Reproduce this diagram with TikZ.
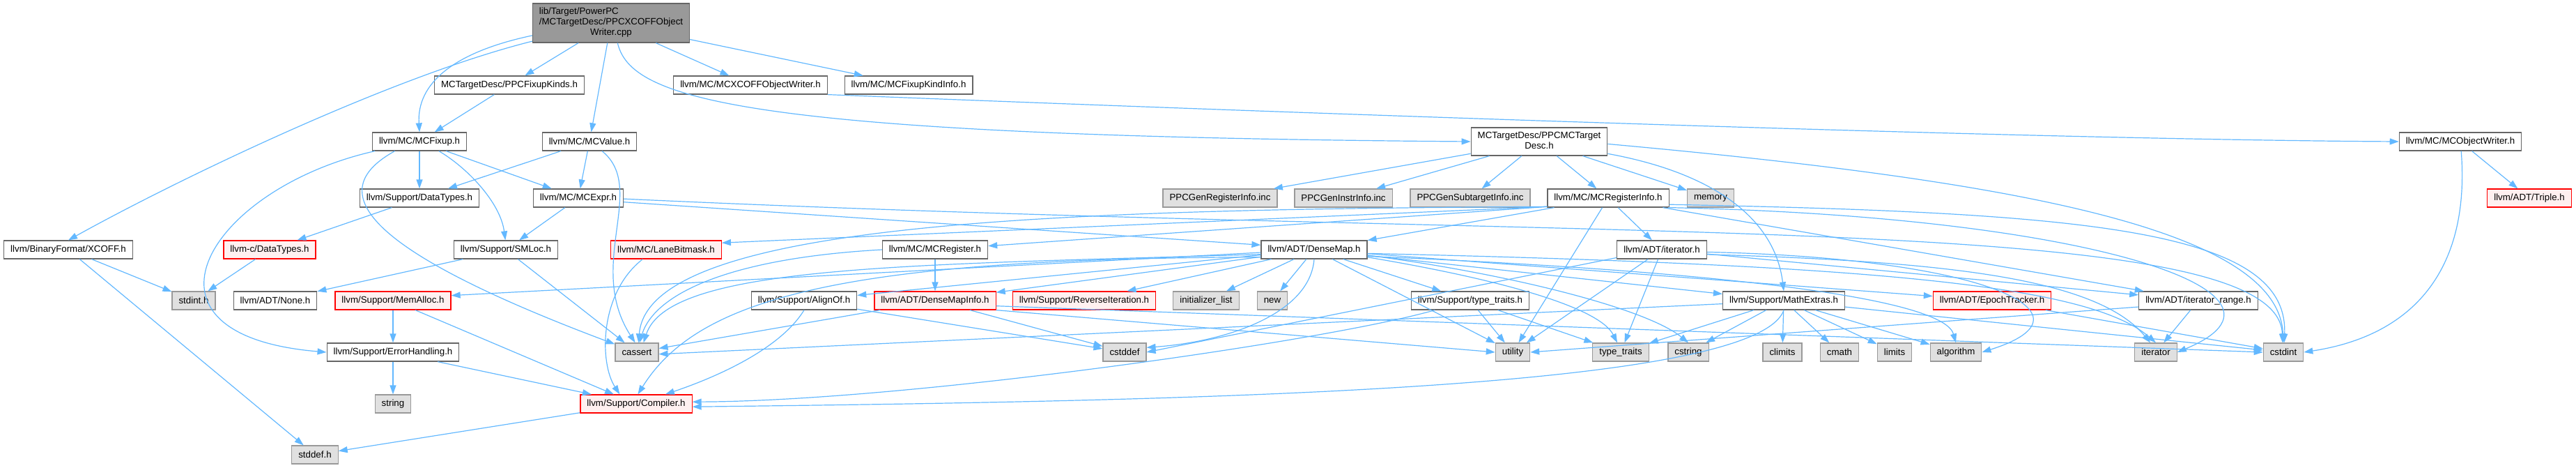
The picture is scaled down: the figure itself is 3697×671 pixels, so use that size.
\documentclass[tikz,border=0pt]{standalone}
\usepackage{fontspec}
\setmainfont{Liberation Sans}
\usetikzlibrary{arrows.meta}
\definecolor{incEdge}{RGB}{99,184,255}
\definecolor{boxLine}{RGB}{102,102,102}
\definecolor{sysFill}{RGB}{224,224,224}
\definecolor{sysLine}{RGB}{153,153,153}
\definecolor{cutFill}{RGB}{255,240,240}

\begin{document}
\begin{tikzpicture}[x=1pt, y=-1pt,
     hdr/.style={rectangle, draw=boxLine, fill=white, line width=1.2pt,
                 minimum height=26pt, inner xsep=9.5pt, inner ysep=0pt,
                 font=\fontsize{13.3}{15}\selectfont},
     sys/.style={hdr, draw=sysLine, fill=sysFill},
     cut/.style={hdr, draw=red, fill=cutFill},
     src/.style={hdr, fill=sysLine},
     inc/.style={-{Triangle[length=13pt,width=9pt]}, incEdge, line width=1.2pt}]
    \useasboundingbox (0,0) rectangle (3697,671);
    \node[src, minimum height=56pt] (root) at (877,33) {\begin{tabular}{@{}l@{}}lib/Target/PowerPC\\/MCTargetDesc/PPCXCOFFObject\\\multicolumn{1}{@{}c@{}}{Writer.cpp}\end{tabular}};
    \node[hdr] (fixk) at (731,122) {MCTargetDesc/PPCFixupKinds.h};
    \node[hdr] (xcw) at (1077,122) {llvm/MC/MCXCOFFObjectWriter.h};
    \node[hdr] (fki) at (1304,122) {llvm/MC/MCFixupKindInfo.h};
    \node[hdr] (fix) at (602,203) {llvm/MC/MCFixup.h};
    \node[hdr] (val) at (846,203) {llvm/MC/MCValue.h};
    \node[hdr, minimum height=40pt] (tdesc) at (2209,203) {\begin{tabular}{@{}c@{}}MCTargetDesc/PPCMCTarget\\Desc.h\end{tabular}};
    \node[hdr] (ow) at (3531,203) {llvm/MC/MCObjectWriter.h};
    \node[hdr] (dt) at (602,284) {llvm/Support/DataTypes.h};
    \node[hdr] (expr) at (830,284) {llvm/MC/MCExpr.h};
    \node[sys] (gri) at (1751,284) {PPCGenRegisterInfo.inc};
    \node[sys] (gii) at (1928,284) {PPCGenInstrInfo.inc};
    \node[sys] (gsi) at (2110,284) {PPCGenSubtargetInfo.inc};
    \node[hdr] (ri) at (2308,284) {llvm/MC/MCRegisterInfo.h};
    \node[sys] (mem) at (2455,284) {memory};
    \node[cut] (triple) at (3630,284) {llvm/ADT/Triple.h};
    \node[hdr] (xcoff) at (98,358) {llvm/BinaryFormat/XCOFF.h};
    \node[cut] (cdt) at (387,358) {llvm-c/DataTypes.h};
    \node[hdr] (smloc) at (726,358) {llvm/Support/SMLoc.h};
    \node[cut] (lbm) at (956,358) {llvm/MC/LaneBitmask.h};
    \node[hdr] (reg) at (1342,358) {llvm/MC/MCRegister.h};
    \node[hdr] (dmap) at (1886,358) {llvm/ADT/DenseMap.h};
    \node[hdr] (iter) at (2385,358) {llvm/ADT/iterator.h};
    \node[sys] (stdint) at (278,431) {stdint.h};
    \node[hdr] (none) at (395,431) {llvm/ADT/None.h};
    \node[cut] (malloc) at (564,431) {llvm/Support/MemAlloc.h};
    \node[hdr] (align) at (1154,431) {llvm/Support/AlignOf.h};
    \node[cut] (dmi) at (1342,431) {llvm/ADT/DenseMapInfo.h};
    \node[cut] (rev) at (1556,431) {llvm/Support/ReverseIteration.h};
    \node[sys] (ilist) at (1731,431) {initializer\_list};
    \node[sys] (new) at (1826,431) {new};
    \node[hdr] (tt) at (2110,431) {llvm/Support/type\_traits.h};
    \node[hdr] (math) at (2560,431) {llvm/Support/MathExtras.h};
    \node[cut] (epoch) at (2859,431) {llvm/ADT/EpochTracker.h};
    \node[hdr] (irange) at (3155,431) {llvm/ADT/iterator\_range.h};
    \node[sys] (cassert) at (914,505) {cassert};
    \node[hdr] (eh) at (564,505) {llvm/Support/ErrorHandling.h};
    \node[sys] (cstddef) at (1614,505) {cstddef};
    \node[sys] (utility) at (2171,505) {utility};
    \node[sys] (stt) at (2326,505) {type\_traits};
    \node[sys] (cstring) at (2423,505) {cstring};
    \node[sys] (climits) at (2558,505) {climits};
    \node[sys] (cmath) at (2640,505) {cmath};
    \node[sys] (limits) at (2719,505) {limits};
    \node[sys] (algo) at (2807,505) {algorithm};
    \node[sys] (iterh) at (3094,505) {iterator};
    \node[sys] (cstdint) at (3277,505) {cstdint};
    \node[sys] (string) at (564,579) {string};
    \node[cut] (comp) at (913,579) {llvm/Support/Compiler.h};
    \node[sys] (stddef) at (452,652) {stddef.h};
    \draw[inc] (root.193) .. controls (560,110) and (250,260) .. (xcoff.north);
    \draw[inc] (root.189) .. controls (650,75) and (598,120) .. (fix.north);
    \draw[inc] (root) -- (fixk);
    \draw[inc] (root) -- (val);
    \draw[inc] (root.288) .. controls (905,140) and (1050,195) .. (tdesc.west);
    \draw[inc] (root) -- (xcw);
    \draw[inc] (root) -- (fki);
    \draw[inc] (fixk) -- (fix);
    \draw[inc] (xcw.south east) .. controls (1800,160) and (2900,200) .. (ow.west);
    \draw[inc] (fix) -- (dt);
    \draw[inc] (fix) -- (expr);
    \draw[inc] (fix.-26) .. controls (670,240) and (718,290) .. (smloc.93);
    \draw[inc] (fix.201) .. controls (470,270) and (500,350) .. (cassert.160);
    \draw[inc] (fix.192) .. controls (300,270) and (170,480) .. (eh.west);
    \draw[inc] (val) -- (dt);
    \draw[inc] (val) -- (expr);
    \draw[inc] (val.-37) .. controls (930,270) and (840,380) .. (cassert.100);
    \draw[inc] (expr) -- (smloc);
    \draw[inc] (expr.-5) -- (dmap.175);
    \draw[inc] (expr.-1) .. controls (2300,350) and (3270,300) .. (cstdint.95);
    \draw[inc] (tdesc) -- (gri);
    \draw[inc] (tdesc) -- (gii);
    \draw[inc] (tdesc) -- (gsi);
    \draw[inc] (tdesc) -- (ri);
    \draw[inc] (tdesc) -- (mem);
    \draw[inc] (tdesc.-10) .. controls (2470,250) and (2548,320) .. (math.north);
    \draw[inc] (tdesc.-2) .. controls (2900,260) and (3270,330) .. (cstdint.north);
    \draw[inc] (ow) -- (triple);
    \draw[inc] (ow.-85) .. controls (3545,380) and (3470,480) .. (cstdint.east);
    \draw[inc] (dt) -- (cdt);
    \draw[inc] (cdt) -- (stdint);
    \draw[inc] (xcoff) -- (stdint);
    \draw[inc] (xcoff) -- (stddef);
    \draw[inc] (smloc) -- (none);
    \draw[inc] (smloc) -- (cassert);
    \draw[inc] (lbm.202) .. controls (860,420) and (860,520) .. (comp.150);
    \draw[inc] (malloc) -- (eh);
    \draw[inc] (malloc) -- (comp);
    \draw[inc] (eh) -- (string);
    \draw[inc] (eh) -- (comp);
    \draw[inc] (comp) -- (stddef);
    \draw[inc] (ri) -- (dmap);
    \draw[inc] (ri) -- (iter);
    \draw[inc] (ri) -- (irange);
    \draw[inc] (ri) -- (utility);
    \draw[inc] (ri.188) -- (lbm.7);
    \draw[inc] (ri.188) -- (reg.4);
    \draw[inc] (ri.188) .. controls (1500,300) and (930,320) .. (cassert.80);
    \draw[inc] (ri.-6) .. controls (3000,305) and (3285,330) .. (cstdint.85);
    \draw[inc] (ri.-9) .. controls (3000,310) and (3330,420) .. (iterh.east);
    \draw[inc] (reg) -- (dmi);
    \draw[inc] (reg.west) .. controls (1050,370) and (940,420) .. (cassert.75);
    \draw[inc] (dmap) -- (dmi);
    \draw[inc] (dmap) -- (align);
    \draw[inc] (dmap) -- (rev);
    \draw[inc] (dmap) -- (ilist);
    \draw[inc] (dmap) -- (new);
    \draw[inc] (dmap) -- (tt);
    \draw[inc] (dmap) -- (utility);
    \draw[inc] (dmap) -- (math);
    \draw[inc] (dmap) -- (epoch);
    \draw[inc] (dmap.183) -- (malloc.5);
    \draw[inc] (dmap.-8) .. controls (2150,400) and (2295,440) .. (stt.110);
    \draw[inc] (dmap.-6) .. controls (2150,390) and (2360,440) .. (cstring.north);
    \draw[inc] (dmap.-4) .. controls (2700,380) and (3000,410) .. (iterh.north);
    \draw[inc] (dmap.-7) .. controls (2500,390) and (2790,430) .. (algo.north);
    \draw[inc] (dmap.185) .. controls (1300,380) and (960,380) .. (cassert.55);
    \draw[inc] (dmap.south) .. controls (1880,450) and (1760,490) .. (cstddef.12);
    \draw[inc] (dmap.188) .. controls (1200,370) and (1000,430) .. (comp.80);
    \draw[inc] (dmi) -- (cassert);
    \draw[inc] (dmi) -- (cstddef);
    \draw[inc] (dmi.south east) -- (utility.west);
    \draw[inc] (dmi.-5) -- (cstdint.west);
    \draw[inc] (align.south) .. controls (1120,500) and (1030,540) .. (comp.18);
    \draw[inc] (align) -- (cstddef);
    \draw[inc] (tt) -- (utility);
    \draw[inc] (tt) -- (stt);
    \draw[inc] (tt.195) .. controls (1900,490) and (1300,575) .. (comp.2);
    \draw[inc] (iter.190) -- (cstddef.east);
    \draw[inc] (iter) -- (utility);
    \draw[inc] (iter) -- (stt);
    \draw[inc] (iter) -- (irange);
    \draw[inc] (iter.-6) .. controls (2800,375) and (3010,400) .. (iterh.120);
    \draw[inc] (iter.-3) .. controls (2850,370) and (3020,450) .. (algo.east);
    \draw[inc] (math) -- (stt);
    \draw[inc] (math) -- (cstring);
    \draw[inc] (math) -- (climits);
    \draw[inc] (math) -- (cmath);
    \draw[inc] (math) -- (limits);
    \draw[inc] (math) -- (algo);
    \draw[inc] (math) -- (cstdint);
    \draw[inc] (math.183) -- (cassert.-5);
    \draw[inc] (math.south) .. controls (2520,560) and (1700,575) .. (comp.-3);
    \draw[inc] (epoch) -- (cstdint);
    \draw[inc] (irange.186) -- (utility.east);
    \draw[inc] (irange) -- (iterh);
  \end{tikzpicture}
\end{document}
